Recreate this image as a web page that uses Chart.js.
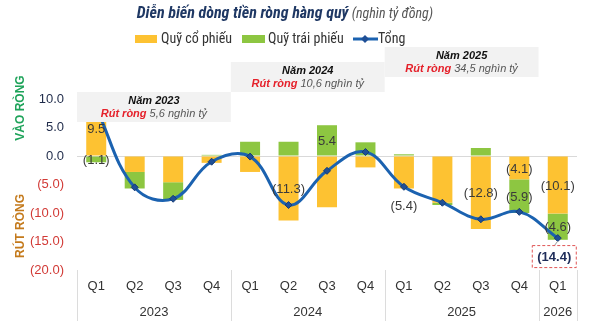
<!DOCTYPE html>
<html lang="vi">
<head>
<meta charset="UTF-8" />
<title>Diễn biến dòng tiền ròng hàng quý</title>
<script src="https://cdn.jsdelivr.net/npm/chart.js"></script>
<style>
  html, body { margin: 0; padding: 0; background: #fff; }
  #wrap { width: 592px; height: 324px; position: relative; }
</style>
</head>
<body>
<div id="wrap"><canvas id="flowChart"></canvas></div>
<script>
const quarters = ["Q1", "Q2", "Q3", "Q4", "Q1", "Q2", "Q3", "Q4", "Q1", "Q2", "Q3", "Q4", "Q1"];
const years = ["2023", "2024", "2025", "2026"];
const quartersPerYear = [4, 4, 4, 1];
const equityFlow = [9.5, -2.8, -4.6, -1.2, -2.8, -11.3, -9.0, -2.0, -5.7, -8.2, -12.8, -4.1, -10.1];
const bondFlow = [-1.1, -2.9, -3.1, 0.2, 2.5, 2.5, 5.4, 2.4, 0.3, -0.4, 1.4, -5.9, -4.6];
const totalFlow = [8.4, -5.5, -7.5, -1.0, -0.1, -8.6, -2.6, 0.7, -5.4, -8.2, -11.1, -9.8, -14.4];
const yearNetOutflow = ["5,6", "10,6", "34,5"];
// which values get a data label: [dataset index, point index]
const shownLabels = [[1, 0], [2, 0], [1, 5], [2, 6], [0, 8], [1, 10], [1, 11], [2, 11], [1, 12], [2, 12]];
const highlightIndex = 12;

const YELLOW = "#fdc232";
const GREEN = "#8dc641";
const BLUE = "#1b62b0";
const NARROW = "'Liberation Sans Narrow', 'Roboto Condensed', 'Liberation Sans', Arial";
const SANS = "'Liberation Sans', Arial, sans-serif";

const fmt = v => v < 0 ? "(" + Math.abs(v).toFixed(1) + ")" : v.toFixed(1);

// draws several styled runs of text centred on cx
function drawRuns(ctx, runs, cx, cy) {
  let total = 0;
  runs.forEach(r => { ctx.font = r.font; r.w = ctx.measureText(r.text).width; total += r.w; });
  let xPos = cx - total / 2;
  ctx.textAlign = "left";
  ctx.textBaseline = "middle";
  runs.forEach(r => { ctx.font = r.font; ctx.fillStyle = r.color; ctx.fillText(r.text, xPos, cy); xPos += r.w; });
}

const boxTops = [92, 62, 47];

const decor = {
  id: "decor",
  afterDatasetsDraw(chart) {
    const { ctx, scales: { x, y } } = chart;
    const step = x.getPixelForValue(1) - x.getPixelForValue(0);
    ctx.save();

    // year summary boxes
    let start = 0;
    yearNetOutflow.forEach((amt, k) => {
      const left = x.getPixelForValue(start) - step / 2;
      const right = x.getPixelForValue(start + quartersPerYear[k] - 1) + step / 2;
      const top = boxTops[k];
      ctx.fillStyle = "#f2f2f2";
      ctx.fillRect(left, top, right - left, 30);
      drawRuns(ctx, [{ text: "Năm " + years[k], font: "italic bold 11px " + SANS, color: "#111" }], (left + right) / 2, top + 9);
      drawRuns(ctx, [
        { text: "Rút ròng", font: "italic bold 11px " + SANS, color: "#e5202a" },
        { text: " " + amt + " nghìn tỷ", font: "italic 11px " + SANS, color: "#555" }
      ], (left + right) / 2, top + 22);
      start += quartersPerYear[k];
    });

    // data labels
    ctx.font = "13px " + SANS;
    ctx.fillStyle = "#3a3a3a";
    ctx.textAlign = "center";
    ctx.textBaseline = "middle";
    shownLabels.forEach(([d, i]) => {
      const el = chart.getDatasetMeta(d).data[i];
      const v = chart.data.datasets[d].data[i];
      const ly = d === 0 ? el.y + 20 : (el.y + el.base) / 2 + 1;
      ctx.fillText(fmt(v), el.x, ly);
    });

    // highlighted total
    const hp = chart.getDatasetMeta(0).data[highlightIndex];
    const bx = hp.x - 26, by = hp.y + 7, bw = 44, bh = 22;
    ctx.strokeStyle = "#999";
    ctx.lineWidth = 1;
    ctx.beginPath(); ctx.moveTo(hp.x, hp.y + 3); ctx.lineTo(hp.x - 3, by); ctx.stroke();
    ctx.strokeStyle = "#e05555";
    ctx.setLineDash([3, 2]);
    ctx.strokeRect(bx + 0.5, by + 0.5, bw, bh);
    ctx.setLineDash([]);
    ctx.font = "bold 13px " + SANS;
    ctx.fillStyle = "#1f2d5a";
    ctx.fillText(fmt(totalFlow[highlightIndex]), bx + bw / 2 + 0.5, by + bh / 2 + 1);
    ctx.restore();
  },
  afterDraw(chart) {
    const { ctx, scales: { x, y } } = chart;
    const step = x.getPixelForValue(1) - x.getPixelForValue(0);
    ctx.save();

    // year group separators and labels
    ctx.strokeStyle = "#dcdcdc";
    ctx.lineWidth = 1;
    let start = 0;
    years.forEach((yr, k) => {
      const left = x.getPixelForValue(start) - step / 2;
      const right = x.getPixelForValue(start + quartersPerYear[k] - 1) + step / 2;
      [left, right].forEach(px => {
        ctx.beginPath(); ctx.moveTo(Math.round(px) + 0.5, y.bottom); ctx.lineTo(Math.round(px) + 0.5, 321); ctx.stroke();
      });
      ctx.font = "13px " + SANS;
      ctx.fillStyle = "#333";
      ctx.textAlign = "center";
      ctx.textBaseline = "middle";
      ctx.fillText(yr, (left + right) / 2, 312);
      start += quartersPerYear[k];
    });

    // axis side titles
    ctx.font = "bold 12px " + SANS;
    ctx.textAlign = "center";
    ctx.textBaseline = "middle";
    [["VÀO RÒNG", "#1ea35a", 108], ["RÚT RÒNG", "#c47a1c", 226]].forEach(([t, c, cy]) => {
      ctx.save(); ctx.translate(21, cy); ctx.rotate(-Math.PI / 2);
      ctx.fillStyle = c; ctx.fillText(t, 0, 0); ctx.restore();
    });

    // title
    drawRuns(ctx, [
      { text: "Diễn biến dòng tiền ròng hàng quý", font: "italic bold 16px " + NARROW, color: "#1f3864" },
      { text: " (nghìn tỷ đồng)", font: "italic 14px " + NARROW, color: "#555" }
    ], 285, 14);

    // legend
    ctx.font = "14px " + NARROW;
    ctx.textAlign = "left";
    ctx.textBaseline = "middle";
    ctx.fillStyle = YELLOW; ctx.fillRect(135, 35, 22, 8);
    ctx.fillStyle = "#333"; ctx.fillText(chart.data.datasets[1].label, 161, 39);
    ctx.fillStyle = GREEN; ctx.fillRect(242, 35, 23, 8);
    ctx.fillStyle = "#333"; ctx.fillText(chart.data.datasets[2].label, 268, 39);
    ctx.strokeStyle = BLUE; ctx.lineWidth = 3;
    ctx.beginPath(); ctx.moveTo(353, 39); ctx.lineTo(378, 39); ctx.stroke();
    ctx.fillStyle = "#1f4f96";
    ctx.beginPath(); ctx.moveTo(365, 35); ctx.lineTo(369, 39); ctx.lineTo(365, 43); ctx.lineTo(361, 39); ctx.closePath(); ctx.fill();
    ctx.fillStyle = "#333"; ctx.fillText(chart.data.datasets[0].label, 378, 39);
    ctx.restore();
  }
};

new Chart(document.getElementById("flowChart"), {
  type: "bar",
  data: {
    labels: quarters,
    datasets: [
      {
        type: "line", label: "Tổng", data: totalFlow, stack: "total", order: 0,
        borderColor: BLUE, borderWidth: 3, tension: 0.4, fill: false,
        pointStyle: "rectRot", pointRadius: 3.5, pointBackgroundColor: "#1f4f96",
        pointBorderColor: "#163c75", pointBorderWidth: 1
      },
      { label: "Quỹ cổ phiếu", data: equityFlow, backgroundColor: YELLOW, stack: "funds", order: 1 },
      { label: "Quỹ trái phiếu", data: bondFlow, backgroundColor: GREEN, stack: "funds", order: 1 }
    ]
  },
  options: {
    responsive: true,
    maintainAspectRatio: false,
    animation: false,
    barPercentage: 0.52,
    categoryPercentage: 1,
    layout: { padding: { top: 99, right: 15, left: 0, bottom: 0 } },
    plugins: { legend: { display: false }, title: { display: false }, tooltip: { enabled: false } },
    scales: {
      x: {
        stacked: true,
        afterFit(s) { s.height = 54; },
        grid: { display: false, drawTicks: false },
        border: { display: false },
        ticks: { padding: 9, color: "#333", font: { family: SANS, size: 13 }, maxRotation: 0, autoSkip: false }
      },
      y: {
        stacked: true,
        min: -20, max: 10,
        afterFit(s) { s.width = 77; },
        border: { display: false },
        grid: { drawTicks: false, color: c => c.tick && c.tick.value === 0 ? "#d9d9d9" : "transparent" },
        ticks: {
          stepSize: 5, padding: 13,
          font: { family: SANS, size: 13 },
          color: c => c.tick.value < 0 ? "#d23a36" : "#1f2b4a",
          callback: v => fmt(v)
        }
      }
    }
  },
  plugins: [decor]
});
</script>
</body>
</html>
